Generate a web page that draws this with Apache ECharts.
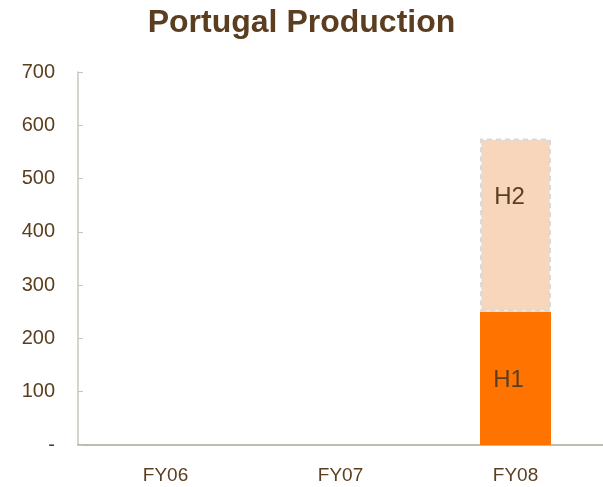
<!DOCTYPE html>
<html>
<head>
<meta charset="utf-8">
<script src="https://cdn.jsdelivr.net/npm/echarts@6/dist/echarts.min.js"></script>
<style>
  html, body { margin: 0; padding: 0; background: #fff; }
  #chart { width: 603px; height: 487px; }
</style>
</head>
<body>
<div id="chart"></div>
<script>
// 数据
const categories = ['FY06', 'FY07', 'FY08'];
const h1Values = [null, null, 250];
const h2Values = [null, null, 325];
const yTicks = [0, 100, 200, 300, 400, 500, 600, 700];

const brown = '#5a3e1f';
const font = 'Liberation Sans, Arial, sans-serif';
const myChart = echarts.init(document.getElementById('chart'));

const options = {
  title: {
    text: 'Portugal Production',
    left: 'center',
    top: 2,
    textStyle: {
      color: brown,
      fontFamily: font,
      fontSize: 32,
      fontWeight: 'bold'
    }
  },
  grid: {
    left: 78,
    top: 72,
    width: 528,
    height: 373,
    containLabel: false
  },
  xAxis: {
    type: 'category',
    data: categories,
    axisLine: { lineStyle: { color: '#aaa39b', width: 1.5 } },
    axisTick: { show: false },
    axisLabel: {
      color: brown,
      fontFamily: font,
      fontSize: 19,
      margin: 21
    }
  },
  yAxis: {
    type: 'value',
    min: yTicks[0],
    max: yTicks[yTicks.length - 1],
    interval: 100,
    splitLine: { show: false },
    axisLine: { show: true, lineStyle: { color: '#cbc4bc', width: 1.5 } },
    axisTick: { show: true, inside: true, length: 5, lineStyle: { color: '#cbc4bc' } },
    axisLabel: {
      color: brown,
      fontFamily: font,
      fontSize: 20,
      margin: 23,
      formatter: v => (v === 0 ? '-' : String(v))
    }
  },
  series: [
    {
      name: 'H1',
      type: 'bar',
      stack: 'prod',
      data: h1Values,
      barWidth: 71,
      itemStyle: { color: '#ff7300' },
      label: {
        show: true,
        position: 'inside',
        formatter: 'H1',
        offset: [-7, 2],
        color: brown,
        fontFamily: font,
        fontSize: 24
      }
    },
    {
      name: 'H2',
      type: 'bar',
      stack: 'prod',
      data: h2Values,
      barWidth: 71,
      itemStyle: {
        color: '#f8d6bc',
        borderColor: '#d9d9d9',
        borderWidth: 2.5,
        borderType: [5, 4]
      },
      label: {
        show: true,
        position: 'insideTop',
        distance: 47,
        formatter: 'H2',
        offset: [-6, 0],
        color: brown,
        fontFamily: font,
        fontSize: 24
      }
    }
  ]
};

myChart.setOption(options);
</script>
</body>
</html>
